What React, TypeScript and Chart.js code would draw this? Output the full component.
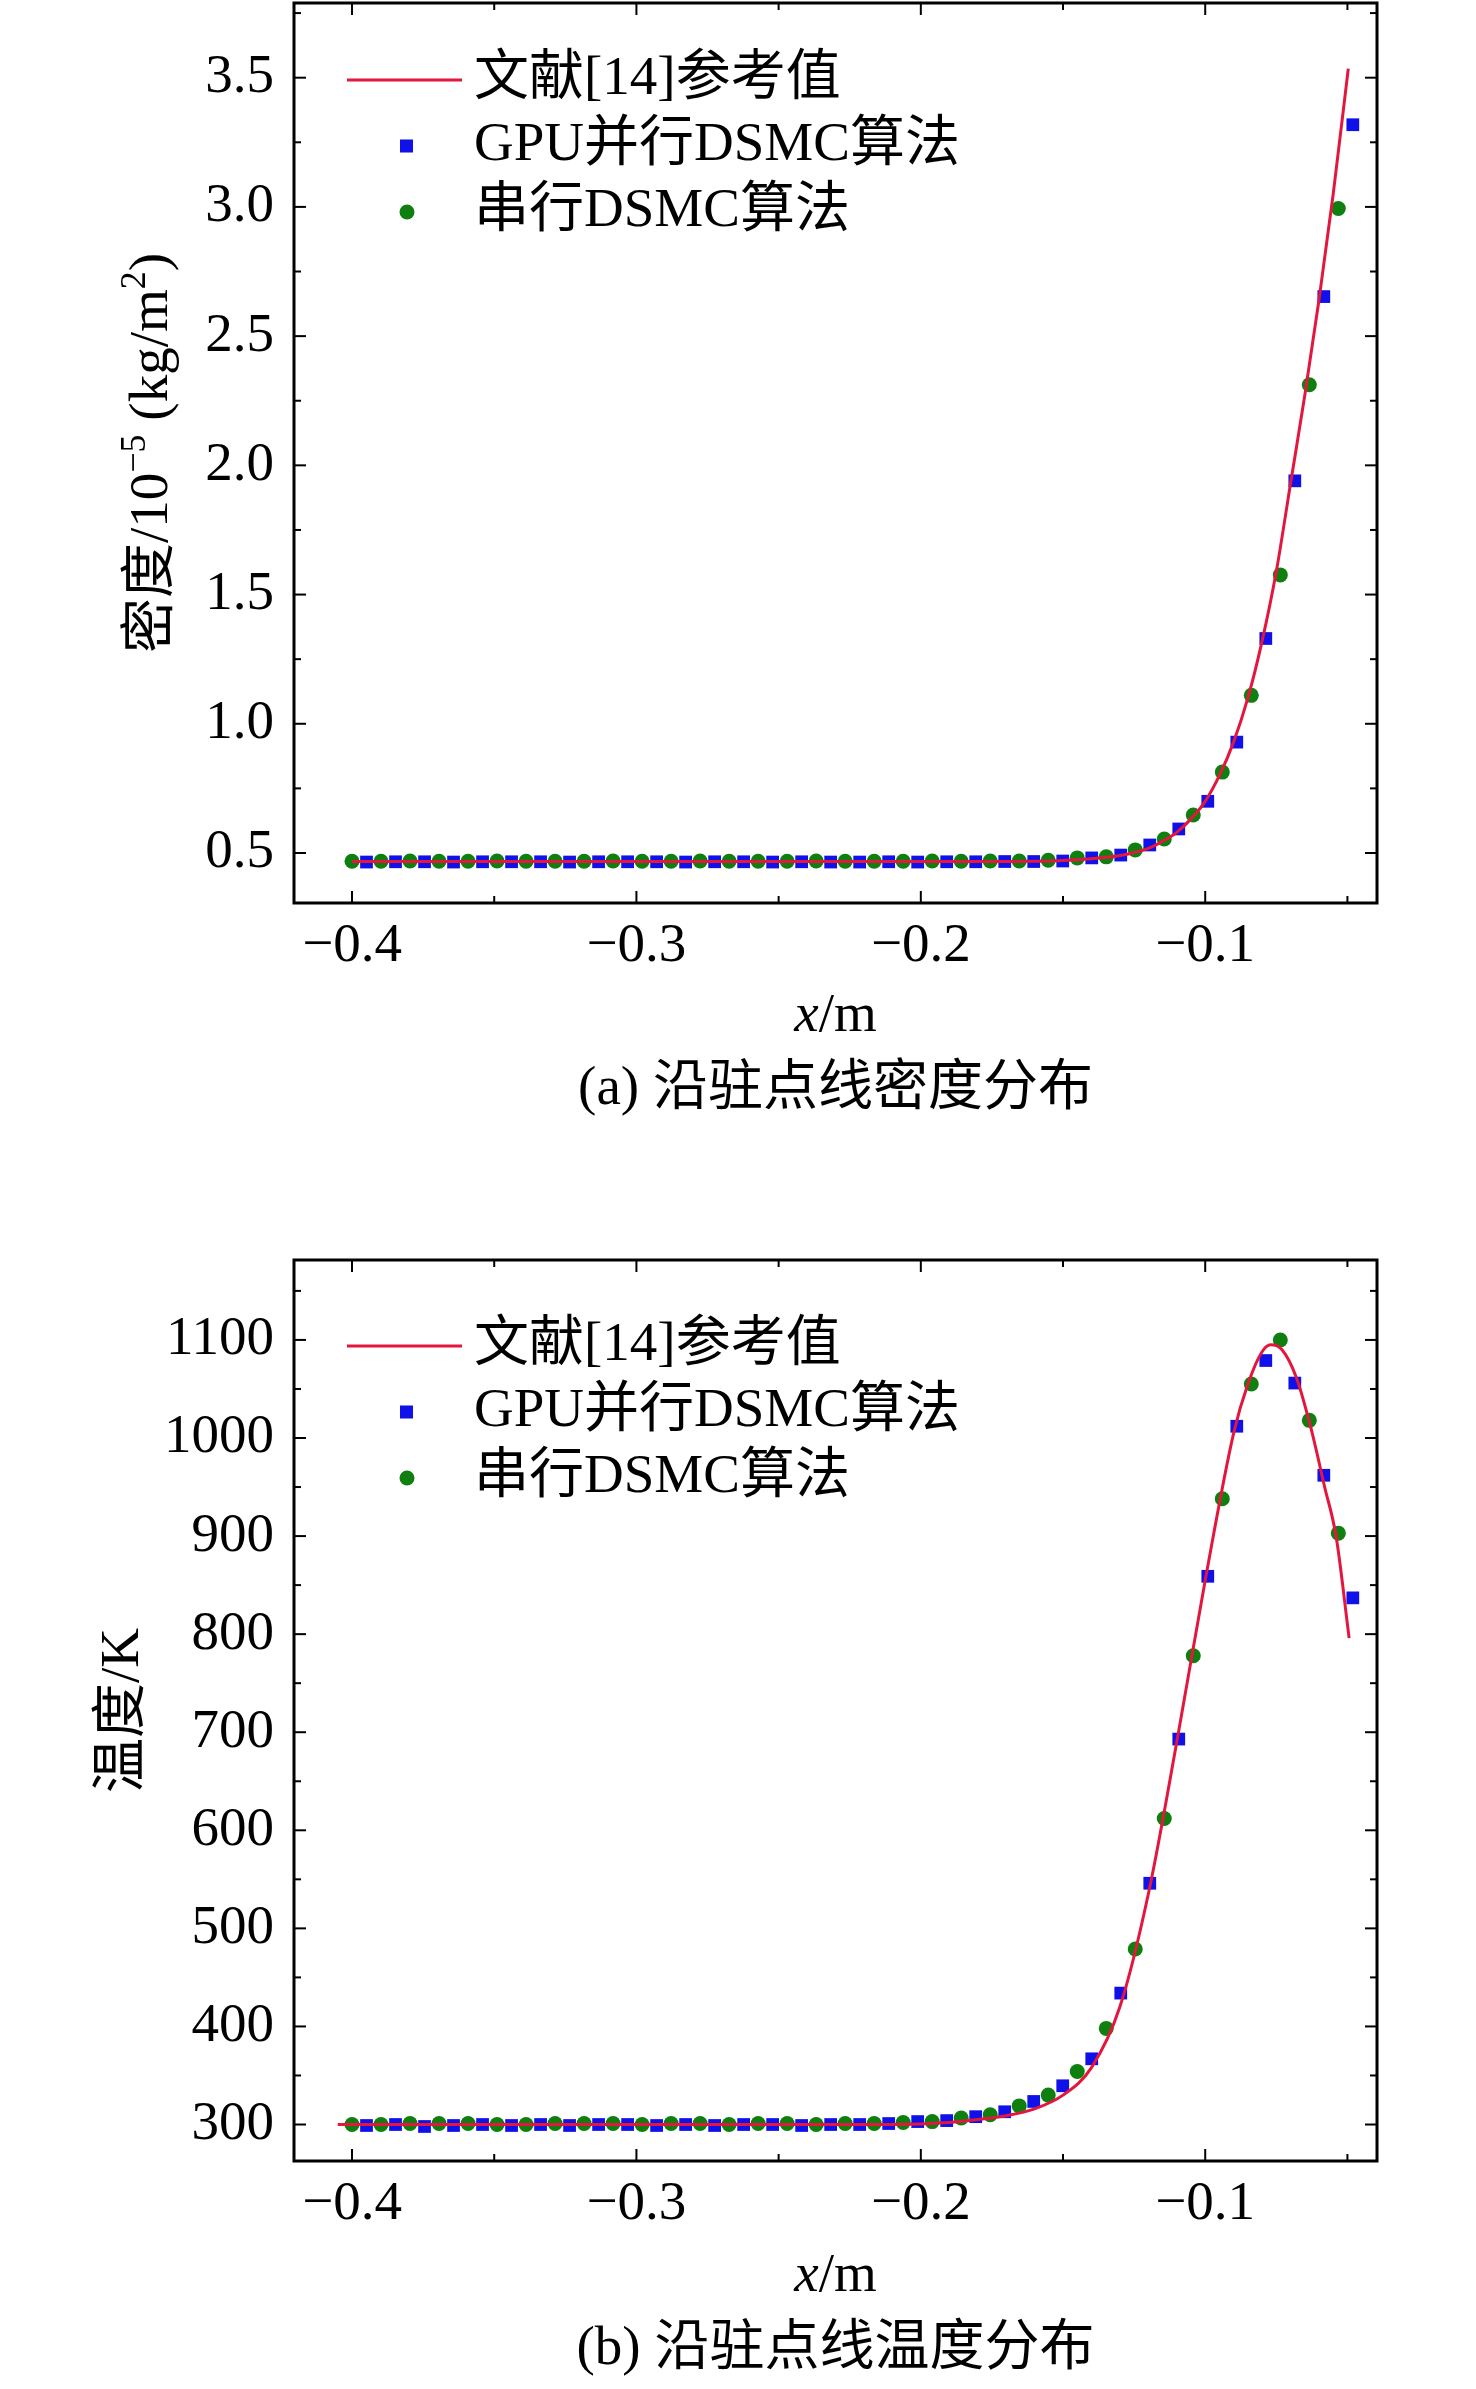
import React, { useEffect, useRef } from 'react';
import Chart from 'chart.js/auto';

const FONT = "'Liberation Serif', 'Times New Roman', 'Noto Sans CJK SC', serif";

// sample positions along the stagnation line (x/m)
const serialX = [
  -0.4, -0.3898, -0.3796, -0.3694, -0.3592, -0.349, -0.3388, -0.3286, -0.3184, -0.3082,
  -0.298, -0.2878, -0.2776, -0.2674, -0.2572, -0.247, -0.2368, -0.2266, -0.2164, -0.2062,
  -0.196, -0.1858, -0.1756, -0.1654, -0.1552, -0.145, -0.1348, -0.1246, -0.1144, -0.1042,
  -0.094, -0.0838, -0.0736, -0.0634, -0.0532,
];
const gpuX = [
  -0.3949, -0.3847, -0.3745, -0.3643, -0.3541, -0.3439, -0.3337, -0.3235, -0.3133, -0.3031,
  -0.2929, -0.2827, -0.2725, -0.2623, -0.2521, -0.2419, -0.2317, -0.2215, -0.2113, -0.2011,
  -0.1909, -0.1807, -0.1705, -0.1603, -0.1501, -0.1399, -0.1297, -0.1195, -0.1093, -0.0991,
  -0.0889, -0.0787, -0.0685, -0.0583, -0.0481,
];

// (a) density, 10^-5 kg/m^2
const densityRefX = [
  -0.4, -0.3, -0.2, -0.17, -0.16, -0.15, -0.14, -0.13, -0.12, -0.115, -0.11, -0.105,
  -0.1, -0.095, -0.09, -0.085, -0.08, -0.075, -0.07, -0.065, -0.06, -0.055, -0.0497,
];
const densityRef = [
  0.467, 0.467, 0.467, 0.467, 0.468, 0.471, 0.478, 0.49, 0.518, 0.545, 0.58, 0.632,
  0.7, 0.8, 0.93, 1.1, 1.32, 1.59, 1.93, 2.27, 2.64, 3.05, 3.535,
];
const densityGpu = [
  0.465, 0.466, 0.466, 0.465, 0.466, 0.466, 0.466, 0.465, 0.466, 0.466, 0.466, 0.465,
  0.466, 0.466, 0.465, 0.466, 0.465, 0.465, 0.466, 0.465, 0.466, 0.466, 0.467, 0.467,
  0.469, 0.481, 0.492, 0.531, 0.593, 0.7, 0.929, 1.33, 1.94, 2.653, 3.318,
];
const densitySerial = [
  0.468, 0.468, 0.469, 0.468, 0.468, 0.469, 0.468, 0.468, 0.468, 0.469, 0.468, 0.468,
  0.469, 0.468, 0.468, 0.468, 0.469, 0.468, 0.468, 0.468, 0.469, 0.468, 0.469, 0.469,
  0.472, 0.481, 0.485, 0.512, 0.554, 0.647, 0.813, 1.11, 1.576, 2.312, 2.994,
];

// (b) temperature, K
const tempRefX = [
  -0.405, -0.3, -0.21, -0.19, -0.18, -0.17, -0.16, -0.15, -0.14, -0.13, -0.12, -0.11,
  -0.1, -0.09, -0.085, -0.08, -0.077, -0.073, -0.068, -0.063, -0.058, -0.054, -0.0494,
];
const tempRef = [
  300, 300, 300, 302, 305, 309, 316, 330, 358, 420, 535, 690,
  855, 1005, 1055, 1088, 1095, 1090, 1062, 1012, 950, 900, 796,
];
const tempGpu = [
  299, 300, 298, 299, 300, 299, 300, 299, 300, 300, 299, 300, 299, 300, 300, 299, 300, 300,
  301, 303, 304, 308, 313, 323.5, 339.5, 367, 434, 546, 693, 859, 1012, 1079, 1056, 962, 837,
];
const tempSerial = [
  300, 300, 301, 301, 301, 300, 300, 301, 301, 301, 300, 301, 301, 300, 301, 301, 300, 301, 301,
  302, 303, 306.6, 310, 319, 330, 354, 398, 479, 612, 778, 938, 1055, 1100, 1018, 903,
];

const xTicks = [-0.4, -0.3, -0.2, -0.1];
const xMinor = [-0.35, -0.25, -0.15, -0.05];
const densityTicks = [0.5, 1.0, 1.5, 2.0, 2.5, 3.0, 3.5];
const densityMinor = [0.75, 1.25, 1.75, 2.25, 2.75, 3.25, 3.75];
const tempTicks = [300, 400, 500, 600, 700, 800, 900, 1000, 1100];
const tempMinor = [350, 450, 550, 650, 750, 850, 950, 1050, 1150];

const legendLabels = ['文献[14]参考值', 'GPU并行DSMC算法', '串行DSMC算法'];

const RED = '#e3173e';
const BLUE = '#1010e8';
const GREEN = '#0f7f0f';

type Part = { t: string; sup?: boolean };

interface PanelProps {
  height: number;
  padTop: number;
  padBottom: number;
  yMin: number;
  yMax: number;
  yTicks: number[];
  yMinor: number[];
  yFmt: (v: number) => string;
  refX: number[];
  refY: number[];
  gpuY: number[];
  serialY: number[];
  legendY: number;
  yTitle: Part[];
  yTitleX: number;
  xTitleY: number;
  caption: string;
  captionY: number;
}

const pts = (xs: number[], ys: number[]) => xs.map((x, i) => ({ x, y: ys[i] }));
const minus = (s: string) => s.replace('-', '\u2212');

const Panel: React.FC<PanelProps> = (p) => {
  const canvasRef = useRef<HTMLCanvasElement | null>(null);
  const chartRef = useRef<Chart | null>(null);

  useEffect(() => {
    if (!canvasRef.current) return;

    const deco = {
      id: 'deco',
      afterDraw(chart: any) {
        const { ctx, chartArea: a, scales } = chart;
        const xs = scales.x;
        const ys = scales.y;
        ctx.save();
        ctx.strokeStyle = '#000';
        ctx.fillStyle = '#000';

        const seg = (x1: number, y1: number, x2: number, y2: number) => {
          ctx.beginPath();
          ctx.moveTo(x1, y1);
          ctx.lineTo(x2, y2);
          ctx.stroke();
        };
        // inward ticks on all four sides
        ctx.lineWidth = 2;
        const tx = (v: number, len: number) => {
          const px = xs.getPixelForValue(v);
          seg(px, a.bottom, px, a.bottom - len);
          seg(px, a.top, px, a.top + len);
        };
        const ty = (v: number, len: number) => {
          const py = ys.getPixelForValue(v);
          seg(a.left, py, a.left + len, py);
          seg(a.right, py, a.right - len, py);
        };
        xTicks.forEach((v) => tx(v, 12));
        xMinor.forEach((v) => tx(v, 7));
        p.yTicks.forEach((v) => ty(v, 12));
        p.yMinor.forEach((v) => ty(v, 7));

        ctx.lineWidth = 3;
        ctx.strokeRect(a.left, a.top, a.right - a.left, a.bottom - a.top);

        // legend
        ctx.font = `55px ${FONT}`;
        ctx.textAlign = 'left';
        ctx.textBaseline = 'middle';
        legendLabels.forEach((label, i) => {
          const y = p.legendY + i * 66;
          if (i === 0) {
            ctx.strokeStyle = RED;
            ctx.lineWidth = 3;
            seg(347, y, 462, y);
          } else if (i === 1) {
            ctx.fillStyle = BLUE;
            ctx.fillRect(400, y - 6.5, 13, 13);
          } else {
            ctx.fillStyle = GREEN;
            ctx.beginPath();
            ctx.arc(407, y, 7.5, 0, Math.PI * 2);
            ctx.fill();
          }
          ctx.fillStyle = '#000';
          ctx.fillText(label, 474, y);
        });

        // y title, rotated
        ctx.save();
        ctx.translate(p.yTitleX, (a.top + a.bottom) / 2);
        ctx.rotate(-Math.PI / 2);
        ctx.textBaseline = 'alphabetic';
        const fontOf = (pt: Part) => (pt.sup ? `36px ${FONT}` : `55px ${FONT}`);
        let total = 0;
        p.yTitle.forEach((pt) => {
          ctx.font = fontOf(pt);
          total += ctx.measureText(pt.t).width;
        });
        let cx = -total / 2;
        p.yTitle.forEach((pt) => {
          ctx.font = fontOf(pt);
          ctx.fillText(pt.t, cx, pt.sup ? -3 : 19);
          cx += ctx.measureText(pt.t).width;
        });
        ctx.restore();

        // x title with italic x
        const mid = (a.left + a.right) / 2;
        ctx.textBaseline = 'middle';
        ctx.font = `italic 55px ${FONT}`;
        const wx = ctx.measureText('x').width;
        ctx.font = `55px ${FONT}`;
        const wm = ctx.measureText('/m').width;
        const x0 = mid - (wx + wm) / 2;
        ctx.font = `italic 55px ${FONT}`;
        ctx.fillText('x', x0, p.xTitleY);
        ctx.font = `55px ${FONT}`;
        ctx.fillText('/m', x0 + wx, p.xTitleY);

        // caption
        ctx.textAlign = 'center';
        ctx.fillText(p.caption, mid, p.captionY);
        ctx.restore();
      },
    };

    chartRef.current = new Chart(canvasRef.current, {
      type: 'line',
      data: {
        datasets: [
          {
            label: legendLabels[0],
            data: pts(p.refX, p.refY),
            borderColor: RED,
            borderWidth: 3,
            pointRadius: 0,
            cubicInterpolationMode: 'monotone',
            fill: false,
          },
          {
            label: legendLabels[1],
            data: pts(gpuX, p.gpuY),
            showLine: false,
            pointStyle: 'rect',
            pointRadius: 9,
            backgroundColor: BLUE,
            borderColor: BLUE,
            borderWidth: 0,
          },
          {
            label: legendLabels[2],
            data: pts(serialX, p.serialY),
            showLine: false,
            pointStyle: 'circle',
            pointRadius: 7.5,
            backgroundColor: GREEN,
            borderColor: GREEN,
            borderWidth: 0,
          },
        ],
      } as any,
      options: {
        animation: false,
        responsive: false,
        devicePixelRatio: 1,
        layout: {
          autoPadding: false,
          padding: { left: 0, right: 99, top: p.padTop, bottom: p.padBottom },
        },
        plugins: { legend: { display: false }, tooltip: { enabled: false } },
        scales: {
          x: {
            type: 'linear',
            min: -0.4204,
            max: -0.0396,
            grid: { display: false, drawTicks: false },
            border: { display: false },
            afterBuildTicks: (s: any) => {
              s.ticks = xTicks.map((value) => ({ value }));
            },
            afterFit: (s: any) => {
              s.height = 100;
              s.paddingLeft = 0;
              s.paddingRight = 0;
            },
            ticks: {
              autoSkip: false,
              maxRotation: 0,
              padding: 11,
              color: '#000',
              font: { family: FONT, size: 55 },
              callback: (v: any) => minus(Number(v).toFixed(1)),
            },
          },
          y: {
            type: 'linear',
            min: p.yMin,
            max: p.yMax,
            grid: { display: false, drawTicks: false },
            border: { display: false },
            afterBuildTicks: (s: any) => {
              s.ticks = p.yTicks.map((value) => ({ value }));
            },
            afterFit: (s: any) => {
              s.width = 294;
              s.paddingTop = 0;
              s.paddingBottom = 0;
            },
            ticks: {
              autoSkip: false,
              padding: 20,
              color: '#000',
              font: { family: FONT, size: 55 },
              callback: (v: any) => p.yFmt(Number(v)),
            },
          },
        },
      },
      plugins: [deco],
    });

    return () => {
      if (chartRef.current) {
        chartRef.current.destroy();
        chartRef.current = null;
      }
    };
  }, []);

  return (
    <canvas
      ref={canvasRef}
      width={1476}
      height={p.height}
      style={{ display: 'block', width: 1476, height: p.height }}
    />
  );
};

const App: React.FC = () => (
  <div style={{ position: 'absolute', left: 0, top: 0, width: 1476, height: 2389, background: '#fff', overflow: 'hidden' }}>
    <Panel
      height={1195}
      padTop={3}
      padBottom={192}
      yMin={0.3065}
      yMax={3.789}
      yTicks={densityTicks}
      yMinor={densityMinor}
      yFmt={(v) => v.toFixed(1)}
      refX={densityRefX}
      refY={densityRef}
      gpuY={densityGpu}
      serialY={densitySerial}
      legendY={80}
      yTitle={[{ t: '密度/10' }, { t: '\u22125', sup: true }, { t: ' (kg/m' }, { t: '2', sup: true }, { t: ')' }]}
      yTitleX={148}
      xTitleY={1017}
      caption="(a) 沿驻点线密度分布"
      captionY={1090}
    />
    <Panel
      height={1194}
      padTop={65}
      padBottom={128}
      yMin={262.8}
      yMax={1181.5}
      yTicks={tempTicks}
      yMinor={tempMinor}
      yFmt={(v) => String(v)}
      refX={tempRefX}
      refY={tempRef}
      gpuY={tempGpu}
      serialY={tempSerial}
      legendY={151}
      yTitle={[{ t: '温度/K' }]}
      yTitleX={119}
      xTitleY={1082}
      caption="(b) 沿驻点线温度分布"
      captionY={1155}
    />
  </div>
);

export default App;
